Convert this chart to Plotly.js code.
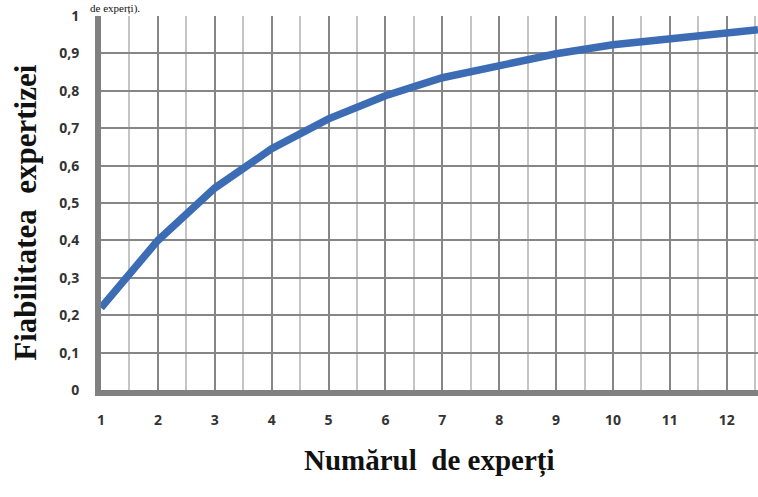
<!DOCTYPE html>
<html>
<head>
<meta charset="utf-8">
<script src="https://cdn.plot.ly/plotly-3.0.1.min.js"></script>
<style>
html,body{margin:0;padding:0;background:#fff;}
#chart{width:758px;height:497px;}
</style>
</head>
<body>
<div id="chart"></div>
<script>
const experti = [1, 2, 3, 4, 5, 6, 7, 8, 9, 10, 11, 12, 12.55];
const fiabilitate = [0.22, 0.40, 0.54, 0.645, 0.725, 0.787, 0.835, 0.867, 0.899, 0.923, 0.94, 0.955, 0.963];
const xTickVals = [1, 2, 3, 4, 5, 6, 7, 8, 9, 10, 11, 12];
const titluX = "Numărul  de experți";
const titluY = "Fiabilitatea  expertizei";
const textSus = "de experți).";

const tickFont = {family: "Open Sans, Noto Sans, sans-serif", size: 14, color: "#333333", weight: "bold"};

const trace = {
  x: experti,
  y: fiabilitate,
  type: "scatter",
  mode: "lines",
  line: {color: "#3b6cb4", width: 7.5},
  hoverinfo: "skip"
};

const layout = {
  width: 758,
  height: 497,
  margin: {l: 101, r: 0, t: 16, b: 107},
  paper_bgcolor: "#ffffff",
  plot_bgcolor: "#ffffff",
  separators: ", ",
  showlegend: false,
  xaxis: {
    range: [1, 12.55],
    tickmode: "array",
    tickvals: xTickVals,
    ticks: "",
    ticklabelstandoff: 12,
    tickfont: tickFont,
    showgrid: true,
    gridcolor: "#868686",
    gridwidth: 2,
    minor: {dtick: 0.5, tick0: 0.5, showgrid: true, gridcolor: "#c4c4c4", gridwidth: 2, ticks: ""},
    zeroline: false,
    showline: true,
    linecolor: "#808080",
    linewidth: 6,
    fixedrange: true
  },
  yaxis: {
    range: [0, 1],
    dtick: 0.1,
    tick0: 0,
    ticks: "",
    ticklabelstandoff: 13,
    tickfont: tickFont,
    showgrid: true,
    gridcolor: "#868686",
    gridwidth: 2,
    zeroline: false,
    showline: true,
    linecolor: "#808080",
    linewidth: 6,
    fixedrange: true
  },
  annotations: [
    {text: titluX, xref: "paper", yref: "paper", x: 0.5, y: -0.19, xanchor: "center", yanchor: "middle", showarrow: false,
     font: {family: "Liberation Serif, Times New Roman, serif", size: 29, color: "#111", weight: "bold"}},
    {text: titluY, xref: "paper", yref: "paper", x: -0.115, y: 0.475, xanchor: "center", yanchor: "middle", textangle: -90, showarrow: false,
     font: {family: "Liberation Serif, Times New Roman, serif", size: 31, color: "#111", weight: "bold"}},
    {text: textSus, xref: "paper", yref: "paper", x: -0.02, y: 1.043, xanchor: "left", yanchor: "top", showarrow: false,
     font: {family: "Liberation Serif, serif", size: 11, color: "#111"}}
  ]
};

Plotly.newPlot("chart", [trace], layout, {displayModeBar: false, staticPlot: true});
</script>
</body>
</html>
